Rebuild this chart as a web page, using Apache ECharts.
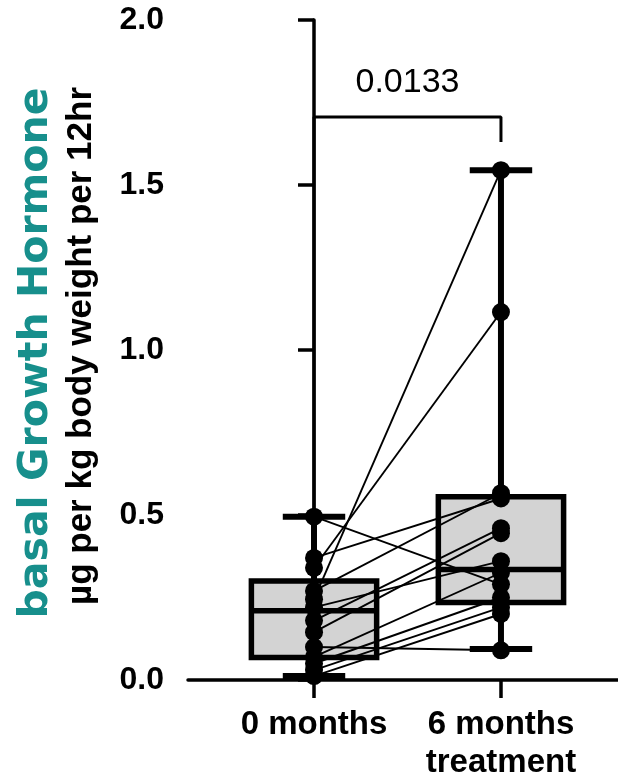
<!DOCTYPE html>
<html>
<head>
<meta charset="utf-8">
<script src="https://cdn.jsdelivr.net/npm/echarts@6/dist/echarts.min.js"></script>
<style>
html,body{margin:0;padding:0;background:#fff;}
#chart{width:618px;height:778px;}
</style>
</head>
<body>
<div id="chart"></div>
<script>
// ---- data ----
var categories = ['0 months', '6 months\ntreatment'];
var categoryX = [0, 1];
var yTicks = [0, 0.5, 1.0, 1.5, 2.0];
// paired subject values (µg per kg body weight per 12hr)
var month0 = [0.495, 0.37, 0.34, 0.27, 0.245, 0.22, 0.18, 0.145, 0.10, 0.07, 0.05, 0.03, 0.012];
var month6 = [0.29, 0.55, 1.115, 0.566, 1.545, 0.36, 0.46, 0.445, 0.09, 0.325, 0.25, 0.22, 0.20];
// box statistics: [min, Q1, median, Q3, max]
var box0 = [0.012, 0.068, 0.21, 0.30, 0.495];
var box6 = [0.094, 0.235, 0.335, 0.555, 1.545];
// significance bracket
var pValue = '0.0133';
var bracketTop = 1.706;
var bracketLeftEnd = 0.52;
var bracketRightEnd = 1.63;

var FONT = '"Liberation Sans", Arial, sans-serif';
var chart = echarts.init(document.getElementById('chart'));

var series = [];
// boxes + whiskers
series.push({
  type: 'custom',
  z: 1,
  data: [[categoryX[0]].concat(box0), [categoryX[1]].concat(box6)],
  renderItem: function (params, api) {
    var x = api.value(0), mn = api.value(1), q1 = api.value(2), md = api.value(3), q3 = api.value(4), mx = api.value(5);
    var bw = 0.335, cw = 0.167;
    var tl = api.coord([x - bw, q3]), br = api.coord([x + bw, q1]);
    var mL = api.coord([x - bw, md]), mR = api.coord([x + bw, md]);
    var top = api.coord([x, mx]), bot = api.coord([x, mn]);
    var q3p = api.coord([x, q3]), q1p = api.coord([x, q1]);
    var capTL = api.coord([x - cw, mx]), capTR = api.coord([x + cw, mx]);
    var capBL = api.coord([x - cw, mn]), capBR = api.coord([x + cw, mn]);
    var ls = {stroke: '#000', lineWidth: 6};
    return {
      type: 'group',
      children: [
        {type: 'line', shape: {x1: top[0], y1: top[1], x2: q3p[0], y2: q3p[1]}, style: ls},
        {type: 'line', shape: {x1: bot[0], y1: bot[1], x2: q1p[0], y2: q1p[1]}, style: ls},
        {type: 'line', shape: {x1: capTL[0], y1: capTL[1], x2: capTR[0], y2: capTR[1]}, style: ls},
        {type: 'line', shape: {x1: capBL[0], y1: capBL[1], x2: capBR[0], y2: capBR[1]}, style: ls},
        {type: 'rect', shape: {x: tl[0], y: tl[1], width: br[0] - tl[0], height: br[1] - tl[1]},
          style: {fill: '#d3d3d3', stroke: '#000', lineWidth: 5.5}},
        {type: 'line', shape: {x1: mL[0], y1: mL[1], x2: mR[0], y2: mR[1]}, style: {stroke: '#000', lineWidth: 5.5}}
      ]
    };
  }
});
// pairing lines
for (var i = 0; i < month0.length; i++) {
  series.push({
    type: 'line',
    z: 2,
    symbol: 'none',
    silent: true,
    lineStyle: {color: '#000', width: 1.9, opacity: 1},
    data: [[categoryX[0], month0[i]], [categoryX[1], month6[i]]]
  });
}
// points
series.push({
  type: 'scatter', z: 3, symbolSize: 18, itemStyle: {color: '#000', opacity: 1},
  data: month0.map(function (v) { return [categoryX[0], v]; })
});
series.push({
  type: 'scatter', z: 3, symbolSize: 18, itemStyle: {color: '#000', opacity: 1},
  data: month6.map(function (v) { return [categoryX[1], v]; })
});
// bracket
series.push({
  type: 'line', z: 2, symbol: 'none', silent: true,
  lineStyle: {color: '#000', width: 3, opacity: 1},
  data: [[categoryX[0], bracketLeftEnd], [categoryX[0], bracketTop], [categoryX[1], bracketTop], [categoryX[1], bracketRightEnd]]
});
series.push({
  type: 'scatter', z: 4, symbolSize: 0, silent: true,
  itemStyle: {opacity: 1},
  data: [[(categoryX[0] + categoryX[1]) / 2, bracketTop]],
  label: {show: true, position: 'top', distance: 17, formatter: pValue,
    fontFamily: FONT, fontSize: 34, color: '#000', opacity: 1}
});

chart.setOption({
  animation: false,
  backgroundColor: '#fff',
  grid: {left: 188, right: 0, top: 20, bottom: 98, outerBoundsMode: 'none', containLabel: false},
  xAxis: {
    type: 'value', min: -0.674, max: 1.626,
    splitLine: {show: false},
    axisLine: {show: true, lineStyle: {color: '#000', width: 3.5}},
    axisTick: {show: true, customValues: categoryX, length: 18, lineStyle: {color: '#000', width: 3.5}},
    axisLabel: {
      customValues: categoryX, margin: 26, color: '#000', fontFamily: FONT, fontWeight: 'bold', fontSize: 33, lineHeight: 38,
      formatter: function (v) { return categories[Math.round(v)]; }
    }
  },
  yAxis: {
    type: 'value', min: yTicks[0], max: yTicks[yTicks.length - 1], interval: 0.5,
    splitLine: {show: false},
    axisLine: {show: true, lineStyle: {color: '#000', width: 3.5}},
    axisTick: {show: true, length: 16, lineStyle: {color: '#000', width: 3.5}},
    axisLabel: {margin: 24, color: '#000', fontFamily: FONT, fontWeight: 'bold', fontSize: 32,
      formatter: function (v) { return v.toFixed(1); }}
  },
  graphic: [
    {type: 'text', x: 36, y: 353, rotation: Math.PI / 2,
      style: {text: 'basal Growth Hormone', font: 'bold 41px "DejaVu Sans", sans-serif', fill: '#178f8c', align: 'center', verticalAlign: 'middle'}},
    {type: 'text', x: 81, y: 346, rotation: Math.PI / 2,
      style: {text: 'µg per kg body weight per 12hr', font: 'bold 35px ' + FONT, fill: '#000', align: 'center', verticalAlign: 'middle'}}
  ],
  series: series
});
</script>
</body>
</html>
